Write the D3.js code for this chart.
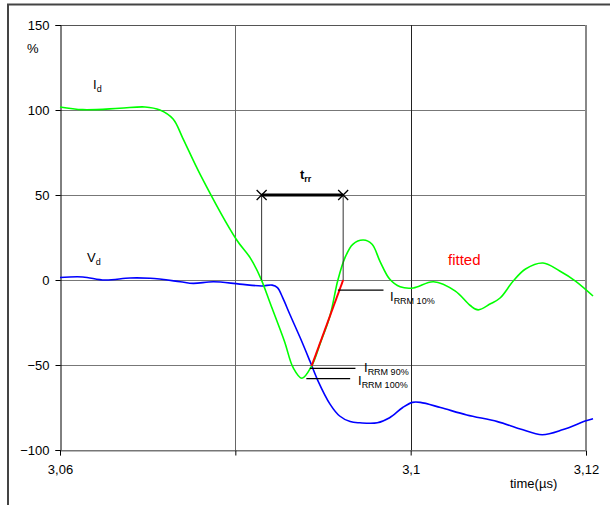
<!DOCTYPE html>
<html>
<head>
<meta charset="utf-8">
<script src="https://cdn.jsdelivr.net/npm/d3@7"></script>
<style>
  body { margin: 0; background: #fff; }
  svg { font-family: "Liberation Sans", Arial, sans-serif; }
  text { fill: #000; }
</style>
</head>
<body>
<div id="chart"></div>
<script>
// data (time in µs, value in %)
var idTime = [3.0600, 3.0626, 3.0668, 3.0697, 3.0714, 3.0729, 3.0740, 3.0760, 3.0801, 3.0817,
              3.0829, 3.0840, 3.0856, 3.0866, 3.0876, 3.0887, 3.0897, 3.0908, 3.0917, 3.0925,
              3.0934, 3.0946, 3.0956, 3.0965, 3.0976, 3.0988, 3.1003, 3.1026, 3.1051, 3.1068,
              3.1077, 3.1091, 3.1102, 3.1117, 3.1131, 3.1151, 3.1170, 3.1188, 3.1208];
var idValue = [101.8, 100.2, 101, 101.8, 100, 94.7, 83.5, 62, 24, 13,
               1, -14, -36, -51.6, -57.8, -50.6, -37, -21, 0, 13,
               21, 23.5, 21, 11, 0.6, -4, -4.7, -1, -6.5, -15,
               -17.6, -14, -10.6, -0.6, 6.5, 10, 5.3, -0.6, -9.4];

var vdTime = [3.0600, 3.0626, 3.0651, 3.0680, 3.0703, 3.0737, 3.0752, 3.0775, 3.0805, 3.0830,
              3.0842, 3.0848, 3.0854, 3.0862, 3.0874, 3.0885, 3.0894, 3.0908, 3.0919, 3.0931,
              3.0942, 3.0962, 3.0976, 3.0991, 3.1002, 3.1011, 3.1034, 3.1064, 3.1099, 3.1125,
              3.1150, 3.1174, 3.1199, 3.1208];
var vdValue = [1.5, 1.8, 0, 1.2, 1, -1, -2, -1, -2.4, -3.5,
               -3, -4.5, -10.4, -20, -34, -47.6, -59, -73, -80, -83.3,
               -84, -84, -81, -75, -72, -72, -75, -79.4, -83.3, -87.6,
               -91, -88, -83, -81.6];

var fittedLine = [[3.0887, -50.6], [3.0923, 0]];
var trrStart = 3.0830, trrEnd = 3.0923, trrLevel = 50;
var markers = [
  {name: "RRM 10%",  t0: 3.0917, t1: 3.0969, v: -5.9},
  {name: "RRM 90%",  t0: 3.0885, t1: 3.0937, v: -52},
  {name: "RRM 100%", t0: 3.0881, t1: 3.0931, v: -58}
];

var xTicks = [3.06, 3.08, 3.1, 3.12];
var xTickLabels = ["3,06", "", "3,1", "3,12"];
var yTicks = [-100, -50, 0, 50, 100, 150];

var W = 610, H = 505;
var margin = {left: 60, right: 24, top: 25, bottom: 55};

var svg = d3.select("#chart").append("svg")
    .attr("width", W).attr("height", H);

// outer frame (partly out of the window)
svg.append("line").attr("x1", 7).attr("x2", W).attr("y1", 4.5).attr("y2", 4.5)
   .attr("stroke", "#444").attr("stroke-width", 2);
svg.append("line").attr("x1", 8).attr("x2", 8).attr("y1", 4).attr("y2", H)
   .attr("stroke", "#444").attr("stroke-width", 2);

var x = d3.scaleLinear().domain([3.06, 3.12]).range([margin.left, 586]);
var y = d3.scaleLinear().domain([-100, 150]).range([450, margin.top]);

// grid
svg.append("g").selectAll("line").data(yTicks).enter().append("line")
   .attr("x1", x(3.06)).attr("x2", x(3.12))
   .attr("y1", d => Math.round(y(d)) + 0.5).attr("y2", d => Math.round(y(d)) + 0.5)
   .attr("stroke", d => d == 150 ? "#555" : "#777").attr("stroke-width", 1);

svg.append("g").selectAll("line").data([3.08, 3.1]).enter().append("line")
   .attr("x1", d => Math.round(x(d)) + 0.5).attr("x2", d => Math.round(x(d)) + 0.5)
   .attr("y1", y(150)).attr("y2", y(-100))
   .attr("stroke", d => d == 3.08 ? "#666" : "#222");

svg.append("line")
   .attr("x1", x(3.12)).attr("x2", x(3.12)).attr("y1", y(150)).attr("y2", y(-100))
   .attr("stroke", "#888").attr("stroke-width", 2);

// axes
var yAxis = svg.append("g")
   .attr("transform", "translate(" + (x(3.06) + 0.5) + ",0)")
   .call(d3.axisLeft(y).tickValues(yTicks).tickSize(5).tickPadding(5));
var xAxis = svg.append("g")
   .attr("transform", "translate(0," + (y(-100) + 0.5) + ")")
   .call(d3.axisBottom(x).tickValues(xTicks).tickSize(5).tickPadding(9)
     .tickFormat((d, i) => xTickLabels[i]));

[yAxis, xAxis].forEach(function(a){
  a.select(".domain").attr("stroke", "#000");
  a.selectAll(".tick line").attr("stroke", "#000");
  a.selectAll("text").attr("fill", "#000").style("font-size", "13px")
   .style("font-family", "Liberation Sans, Arial, sans-serif");
});
xAxis.select(".domain").attr("stroke", "#777");
yAxis.selectAll("text").attr("x", -11);

svg.append("text").attr("x", 27).attr("y", 53).text("%")
   .style("font-size", "13px");
svg.append("text").attr("x", 510).attr("y", 488).text("time(µs)")
   .style("font-size", "13px");

// curves
var line = d3.line()
   .x(d => x(d[0])).y(d => y(d[1]))
   .curve(d3.curveCatmullRom.alpha(0.5));

var vdData = vdTime.map((t, i) => [t, vdValue[i]]);
var idData = idTime.map((t, i) => [t, idValue[i]]);

svg.append("path").datum(vdData).attr("d", line)
   .attr("fill", "none").attr("stroke", "#0000ff").attr("stroke-width", 1.6);
svg.append("path").datum(idData).attr("d", line)
   .attr("fill", "none").attr("stroke", "#00ff00").attr("stroke-width", 1.6);

// fitted line
svg.append("path").datum(fittedLine).attr("d", d3.line().x(d => x(d[0])).y(d => y(d[1])))
   .attr("fill", "none").attr("stroke", "#ff0000").attr("stroke-width", 2);

// trr bracket
[trrStart, trrEnd].forEach(function(t){
  svg.append("line").attr("x1", x(t)).attr("x2", x(t))
     .attr("y1", y(trrLevel)).attr("y2", y(0)).attr("stroke", "#333").attr("stroke-width", 1);
  var cx = x(t), cy = y(trrLevel), s = 5;
  svg.append("path").attr("d", "M" + (cx - s) + "," + (cy - s) + "L" + (cx + s) + "," + (cy + s) +
        "M" + (cx - s) + "," + (cy + s) + "L" + (cx + s) + "," + (cy - s))
     .attr("stroke", "#000").attr("stroke-width", 1.3);
});
svg.append("line").attr("x1", x(trrStart)).attr("x2", x(trrEnd))
   .attr("y1", y(trrLevel)).attr("y2", y(trrLevel))
   .attr("stroke", "#000").attr("stroke-width", 3);

var trr = svg.append("text").attr("x", 300).attr("y", 179)
   .style("font-size", "13px").style("font-weight", "bold");
trr.append("tspan").text("t");
trr.append("tspan").attr("dy", 3).style("font-size", "9px").text("rr");

// IRRM marker lines and labels
svg.append("g").selectAll("line").data(markers).enter().append("line")
   .attr("x1", d => x(d.t0)).attr("x2", d => x(d.t1))
   .attr("y1", d => y(d.v)).attr("y2", d => y(d.v))
   .attr("stroke", "#000").attr("stroke-width", 1.2);

var labelPos = [[390, 301], [364, 372], [358, 385]];
markers.forEach(function(m, i){
  var t = svg.append("text").attr("x", labelPos[i][0]).attr("y", labelPos[i][1])
     .style("font-size", "13px");
  t.append("tspan").text("I");
  t.append("tspan").attr("dy", 3).style("font-size", "9px").text(m.name);
});

// curve labels
var idLbl = svg.append("text").attr("x", 93).attr("y", 89).style("font-size", "13px");
idLbl.append("tspan").text("I");
idLbl.append("tspan").attr("dy", 3).style("font-size", "9px").text("d");

var vdLbl = svg.append("text").attr("x", 87).attr("y", 262).style("font-size", "13px");
vdLbl.append("tspan").text("V");
vdLbl.append("tspan").attr("dy", 3).style("font-size", "9px").text("d");

svg.append("text").attr("x", 448).attr("y", 265).text("fitted")
   .style("fill", "#ff0000").style("font-size", "15px");
</script>
</body>
</html>
